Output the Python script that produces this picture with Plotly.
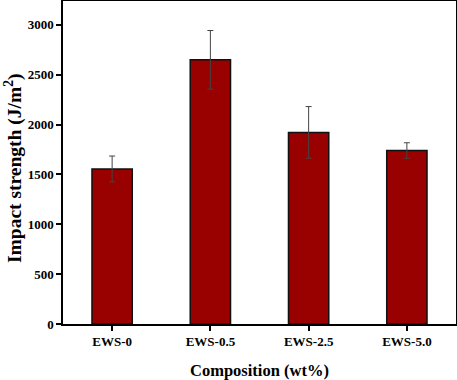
import plotly.graph_objects as go

categories = ["EWS-0", "EWS-0.5", "EWS-2.5", "EWS-5.0"]
values = [1555, 2650, 1922, 1740]
errors = [130, 294, 259, 78]
y_ticks = [0, 500, 1000, 1500, 2000, 2500, 3000]

fig = go.Figure(go.Bar(
    x=categories, y=values,
    marker=dict(color="#990000", line=dict(color="#111111", width=1.5)),
    error_y=dict(type="data", array=errors, color="#444444", thickness=1, width=3),
    width=0.41,
))

font = "Liberation Serif, Times New Roman, serif"
W, H = 457, 380
L, R, T, B = 63, 1, 1, 56
pw, ph = W - L - R, H - T - B

fig.update_layout(
    width=W, height=H, autosize=False,
    margin=dict(l=L, r=R, t=T, b=B, autoexpand=False),
    paper_bgcolor="white", plot_bgcolor="white",
    showlegend=False,
    font=dict(family=font, color="black"),
)
fig.update_xaxes(
    automargin=False,
    showline=True, linecolor="black", linewidth=1.5, mirror=True,
    ticks="outside", ticklen=5, tickwidth=1.5, tickcolor="black",
    tickfont=dict(family=font, size=13, weight="bold"),
)
fig.update_yaxes(
    automargin=False,
    range=[0, 3240], tickvals=y_ticks,
    showline=True, linecolor="black", linewidth=1.5, mirror=True,
    ticks="outside", ticklen=5, tickwidth=1.5, tickcolor="black",
    showgrid=False, zeroline=False,
    tickfont=dict(family=font, size=13, weight="bold"),
)
fig.add_annotation(
    text="<b>Composition (wt%)</b>", xref="paper", yref="paper",
    x=0.5, y=-(370 - (H - B)) / ph, xanchor="center", yanchor="middle",
    showarrow=False, font=dict(family=font, size=16.5, color="black"),
)
fig.add_annotation(
    text="<b>Impact strength (J/m<sup>2</sup>)</b>", xref="paper", yref="paper",
    x=-(L - 13) / pw, y=((H - B) - 168) / ph, xanchor="center", yanchor="middle",
    textangle=-90, showarrow=False, font=dict(family=font, size=19.5, color="black"),
)
fig.write_html(
    "out.html",
    config={"displayModeBar": False},
    post_script="document.body.style.margin='0';document.body.style.overflow='hidden';",
)
